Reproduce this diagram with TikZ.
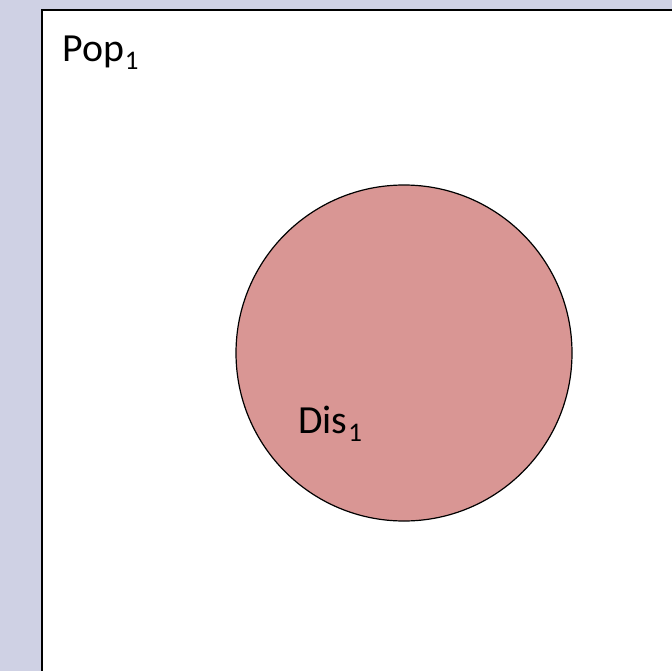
\documentclass[tikz,border=0pt]{standalone}
\usepackage{fontspec}
\setmainfont{Carlito}
\definecolor{slidebg}{HTML}{CFD1E4}
\definecolor{disfill}{HTML}{D99694}
% lowered index digit, sized like a slide subscript
\newcommand{\lowidx}[1]{\kern1bp\raisebox{-8bp}{\fontsize{27}{30}\selectfont #1}}
\begin{document}
\begin{tikzpicture}[x=1bp,y=-1bp,
  popframe/.style={draw=black,line width=2.2bp,fill=white},
  disk/.style={draw=black,line width=1.2bp,fill=disfill},
  lbl/.style={font=\fontsize{40}{44}\selectfont,anchor=base west,inner sep=0pt}]
  \fill[slidebg] (0,0) rectangle (672,671);
  \useasboundingbox (0,0) rectangle (672,671);
  % population frame, running past the right and bottom edges
  \draw[popframe] (42,10) rectangle (690,690);
  \node[lbl] (pop) at (62,61.5) {Pop\lowidx{1}};
  % disease set
  \draw[disk] (404,353) circle (168);
  \node[lbl] (dis) at (298,433.5) {Dis\lowidx{1}};
\end{tikzpicture}
\end{document}
